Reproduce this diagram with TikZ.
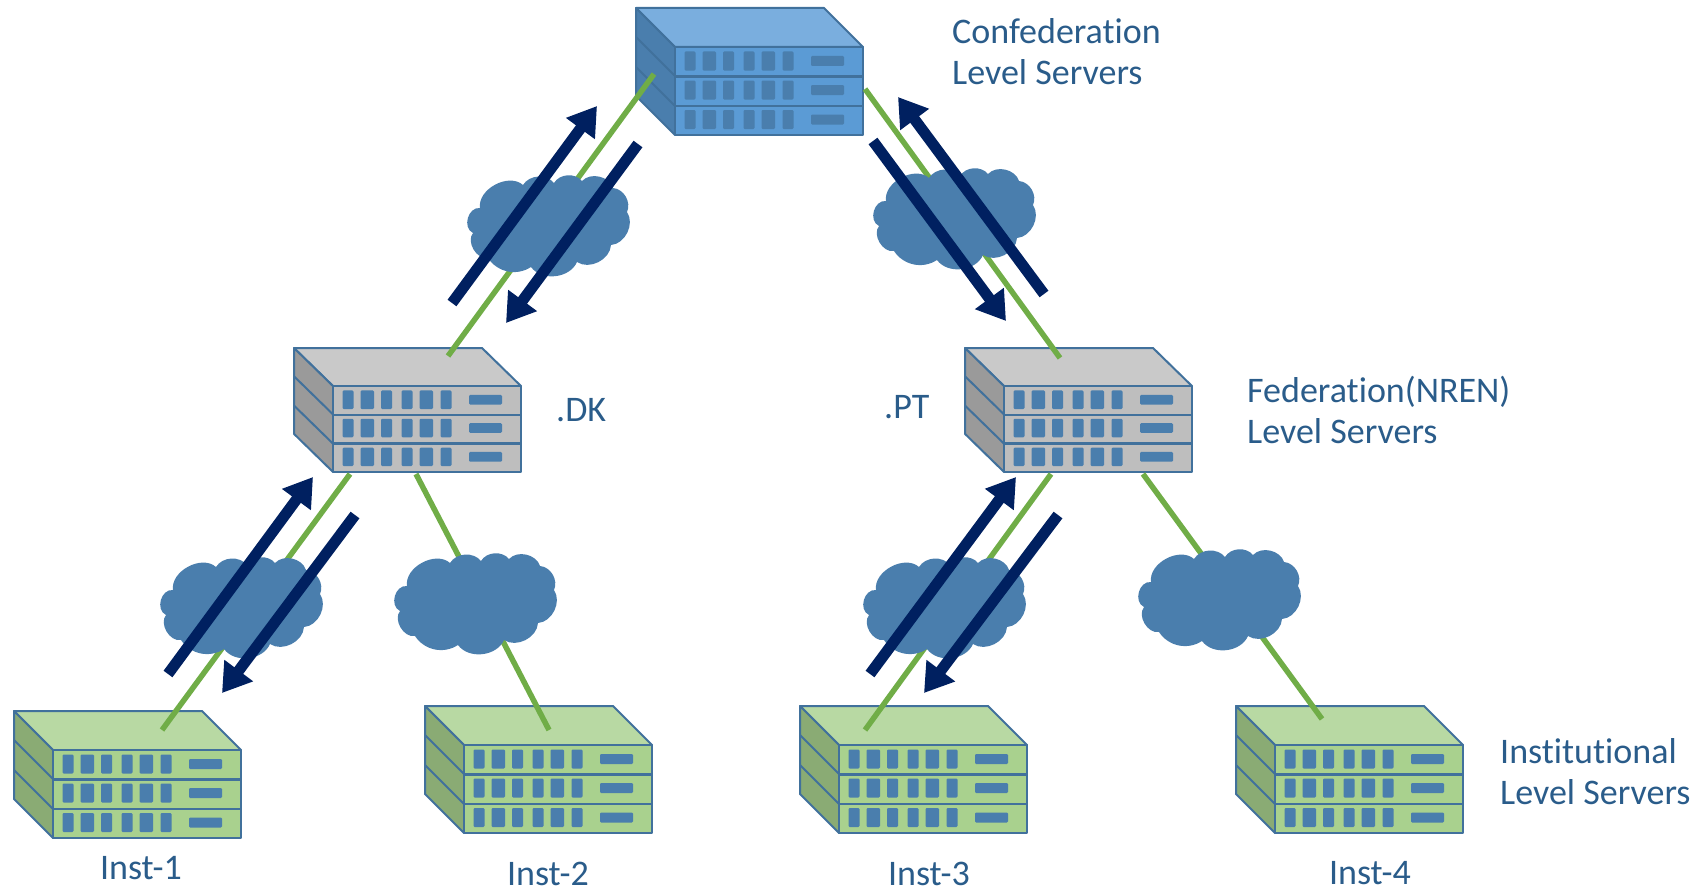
\documentclass[tikz,border=0pt]{standalone}
\usepackage{fontspec}
\setmainfont[Ligatures=NoCommon]{Carlito}
\usetikzlibrary{arrows.meta}
\definecolor{bord}{HTML}{41719C}
\definecolor{port}{HTML}{4A7EAD}
\definecolor{txt}{HTML}{2A5C8A}
\definecolor{navy}{HTML}{002060}
\definecolor{link}{HTML}{70AD47}
\definecolor{blueTop}{HTML}{7AAEDE}
\definecolor{blueFront}{HTML}{5B9BD5}
\definecolor{blueSide}{HTML}{4A7EAD}
\definecolor{greyTop}{HTML}{C9C9C9}
\definecolor{greyFront}{HTML}{BEBEBE}
\definecolor{greySide}{HTML}{9A9A9A}
\definecolor{greenTop}{HTML}{B8D9A3}
\definecolor{greenFront}{HTML}{A9D18E}
\definecolor{greenSide}{HTML}{8AAB74}
\tikzset{
  x=1pt,y=-1pt,
  srvline/.style={draw=bord,line width=2pt,line join=round},
  portbox/.style={fill=port,rounded corners=1.2pt},
  greenlink/.style={draw=link,line width=5.5pt},
  flow/.style={draw=navy,line width=11pt,-{Triangle[length=28pt,width=34pt]}},
  label/.style={text=txt,font=\fontsize{36}{36}\selectfont,inner sep=0pt},
  pics/server/.style n args={3}{code={
    \path[srvline,fill=#1] (0,0)--(188,0)--(227,39)--(39,39)--cycle;
    \path[srvline,fill=#3] (0,0)--(39,39)--(39,127)--(0,88)--cycle;
    \draw[srvline] (0,29)--(39,68) (0,59)--(39,98);
    \path[srvline,fill=#2] (39,39) rectangle (227,127);
    \draw[draw=bord,line width=2.6pt] (39,68.5)--(227,68.5) (39,98)--(227,98);
    \foreach \yy in {43.5,72.5,102}{
      \foreach \xx/\ww in {48.5/11,66.5/13.5,87/11,107.5/11,125.5/13.5,146.5/11}
        \fill[portbox] (\xx,\yy) rectangle ++(\ww,19);
      \fill[portbox] (175,\yy+4.5) rectangle ++(33,10);
    }
  }},
  pics/cloudy/.style={code={
    \fill[port] (5,58) to[bend left=80,looseness=1.2] (12,33)
      to[bend left=70] (55,10)
      to[bend left=55] (86,8)
      to[bend left=55] (114,6)
      to[bend left=60] (145,13)
      to[bend left=55] (159,37)
      to[bend left=60] (143,70)
      to[bend left=60] (109,87)
      to[bend left=60] (63,92)
      to[bend left=45] (20,83)
      to[bend left=70] cycle;
  }}
}
\begin{document}
\begin{tikzpicture}
\useasboundingbox (0,0) rectangle (1696,891);
% link ends
\coordinate (c1a) at (654,74);  \coordinate (c1b) at (448,356);
\coordinate (c2a) at (865,89);  \coordinate (c2b) at (1060,358);
\coordinate (c3a) at (350,474); \coordinate (c3b) at (162,730);
\coordinate (c4a) at (416,474); \coordinate (c4b) at (549,730);
\coordinate (c5a) at (1051,474);\coordinate (c5b) at (865,730);
\coordinate (c6a) at (1143,474);\coordinate (c6b) at (1322,719);
% arrow ends
\coordinate (a1s) at (452,303); \coordinate (a1e) at (597,106);
\coordinate (a2s) at (638,144); \coordinate (a2e) at (506,323);
\coordinate (a3s) at (1044,294);\coordinate (a3e) at (898,97);
\coordinate (a4s) at (873,141); \coordinate (a4e) at (1006,321);
\coordinate (a5s) at (168,674); \coordinate (a5e) at (313,477);
\coordinate (a6s) at (355,515); \coordinate (a6e) at (222,693);
\coordinate (a7s) at (870,674); \coordinate (a7e) at (1016,477);
\coordinate (a8s) at (1058,515);\coordinate (a8e) at (924,693);
% servers
\pic (top) at (636,8) {server={blueTop}{blueFront}{blueSide}};
\pic[yscale=0.976] (dk) at (294,348) {server={greyTop}{greyFront}{greySide}};
\pic[yscale=0.976] (pt) at (965,348) {server={greyTop}{greyFront}{greySide}};
\pic (i1) at (14,711) {server={greenTop}{greenFront}{greenSide}};
\pic (i2) at (425,706) {server={greenTop}{greenFront}{greenSide}};
\pic (i3) at (800,706) {server={greenTop}{greenFront}{greenSide}};
\pic (i4) at (1236,706) {server={greenTop}{greenFront}{greenSide}};
% links
\foreach \n in {1,...,6} \draw[greenlink] (c\n a) -- (c\n b);
% clouds
\pic at (468,175) {cloudy};
\pic at (874,168) {cloudy};
\pic at (161,557) {cloudy};
\pic at (395,553) {cloudy};
\pic at (864,557) {cloudy};
\pic at (1139,549) {cloudy};
% flows
\foreach \n in {1,...,8} \draw[flow] (a\n s) -- (a\n e);
% labels
\node[label,anchor=west] (t1) at (952,31) {Confederation};
\node[label,anchor=west] (t2) at (952,72) {Level Servers};
\node[label,anchor=west] (t3) at (1247,392) {Federation(NREN)};
\node[label,anchor=west] (t4) at (1247,431) {Level Servers};
\node[label,anchor=west] (t5) at (1500,751) {Institutional};
\node[label,anchor=west] (t6) at (1500,792) {Level Servers};
\node[label,anchor=west] (t7) at (556,410) {.DK};
\node[label,anchor=west] (t8) at (884,407) {.PT};
\node[label] (t9) at (141,868) {Inst-1};
\node[label] (t10) at (548,873.5) {Inst-2};
\node[label] (t11) at (929,873.5) {Inst-3};
\node[label] (t12) at (1370,873.5) {Inst-4};
\end{tikzpicture}
\end{document}
